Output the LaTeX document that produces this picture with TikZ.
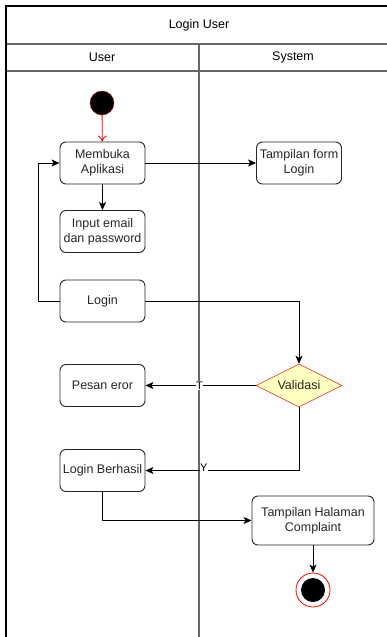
\documentclass[tikz,border=0pt]{standalone}
\usepackage{fontspec}
\setmainfont{Liberation Sans}
\usetikzlibrary{shapes.geometric,arrows.meta}

\tikzset{
  actbox/.style={draw=black!85, rounded corners=6pt, minimum width=85pt, minimum height=42pt,
    align=center, inner sep=1pt, line width=0.9pt, text=black!85},
  flow/.style={-{Stealth[length=8pt,width=7pt,inset=2pt]}, line width=0.9pt},
  lane/.style={draw=black!60, line width=1.1pt},
  guard/.style={fill=white, inner sep=0.5pt, font=\fontsize{11}{12}\selectfont}
}

\begin{document}
\begin{tikzpicture}[x=1pt,y=1pt,yscale=-1,xscale=1,font=\fontsize{12.5}{15}\selectfont]
\useasboundingbox (0,0) rectangle (387,637);

%Pool and lanes
\draw [lane] (6,44) -- (387,44) ;
\draw [lane] (6,71) -- (387,71) ;
\draw [lane] (199,44) -- (199,637) ;
\draw [line width=1.5pt] (387,6) -- (6,6) -- (6,637) ;

% Text Node
\node (title) at (199,25) {Login User};
\node (laneuser) at (102,57) {User};
\node (lanesys) at (293,57) {System};

% Start
\node (start) [circle, fill=black, draw=red!70!black, minimum size=24pt, inner sep=0pt] at (102,103) {};

% Text Node
\node (buka) [actbox] at (102.5,163) {Membuka\\Aplikasi};
\node (form) [actbox] at (299,163) {Tampilan form\\Login};
\node (input) [actbox] at (102.5,231.5) {Input email\\dan password};
\node (login) [actbox] at (102.5,301) {Login};
\node (validasi) [diamond, aspect=2, minimum width=86pt, minimum height=43pt, inner sep=0pt,
  draw=red, fill={rgb,255:red,255;green,255;blue,192}, text=black!85] at (299,385.5) {Validasi};
\node (eror) [actbox] at (102.5,385.5) {Pesan eror};
\node (berhasil) [actbox] at (102.5,470.5) {Login Berhasil};
\node (complaint) [actbox, minimum width=122pt, minimum height=49pt] at (313,520.5) {Tampilan Halaman\\Complaint};

% End
\node (endring) [circle, draw=red, fill=white, minimum size=34pt, inner sep=0pt, line width=0.8pt] at (313,590) {};
\node (enddot) [circle, fill=black, minimum size=24pt, inner sep=0pt] at (313,590) {};

%Straight Lines
\draw [-{To[length=6pt,width=9pt]}, red, line width=0.8pt] (start) -- (buka) ;
\draw [flow] (buka) -- (form) ;
\draw [flow] (buka) -- (input) ;
\draw [flow] (login.west) -- (38,301) |- (buka.west) ;
\draw [flow] (login.east) -| (validasi.north) ;
\draw [flow] (validasi.west) -- node [guard, pos=0.51] (gt) {T} (eror.east) ;
\draw [flow] (validasi.south) |- node [guard, pos=0.81, yshift=3pt] (gy) {Y} (berhasil.east) ;
\draw [flow] (berhasil.south) |- (complaint.west) ;
\draw [flow] (complaint) -- (endring) ;

\end{tikzpicture}
\end{document}
